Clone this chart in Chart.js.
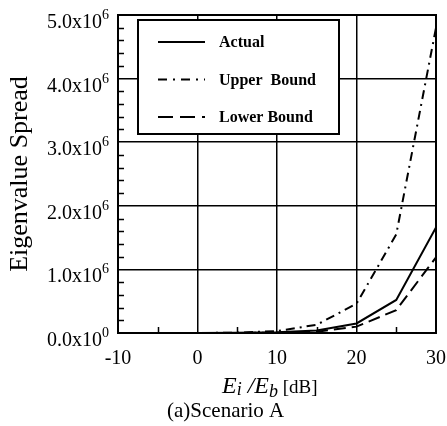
<!DOCTYPE html>
<html>
<head>
<meta charset="utf-8">
<script src="https://cdn.jsdelivr.net/npm/chart.js@4/dist/chart.umd.min.js"></script>
<style>
  html, body { margin: 0; padding: 0; background: #fff; }
  #wrap { width: 447px; height: 426px; position: relative; }
</style>
</head>
<body>
<div id="wrap"><canvas id="spread"></canvas></div>
<script>
// Ei/Eb in dB
const snr = [-10, -5, 0, 5, 10, 15, 20, 25, 30];
// eigenvalue spread, scenario A
const actual = [0, 0, 0, 2000, 10000, 40000, 150000, 520000, 1660000];
const upperBound = [0, 0, 0, 5000, 30000, 130000, 460000, 1550000, 4800000];
const lowerBound = [0, 0, 0, 1000, 5000, 20000, 100000, 360000, 1190000];
const seriesNames = ['Actual', 'Upper  Bound', 'Lower Bound'];

const SERIF = "'Liberation Serif', 'Times New Roman', serif";
const toPoints = (ys) => ys.map((y, i) => ({ x: snr[i], y }));

// frame, minor ticks, tick labels, axis titles and the boxed legend
const paperPlot = {
  id: 'paperPlot',
  afterDatasetsDraw(chart) {
    const { ctx, chartArea: a, scales } = chart;
    const xs = scales.x, ys = scales.y;
    ctx.save();

    // frame
    ctx.strokeStyle = '#000';
    ctx.lineWidth = 2;
    ctx.strokeRect(a.left, a.top, a.right - a.left, a.bottom - a.top);

    // minor ticks pointing inward
    ctx.lineWidth = 1.5;
    ctx.beginPath();
    for (let v = 200000; v < 5000000; v += 200000) {
      if (v % 1000000 === 0) continue;
      const py = Math.round(ys.getPixelForValue(v)) + 0.5;
      ctx.moveTo(a.left, py);
      ctx.lineTo(a.left + 6, py);
    }
    for (let v = -5; v < 30; v += 10) {
      const px = Math.round(xs.getPixelForValue(v)) + 0.5;
      ctx.moveTo(px, a.bottom);
      ctx.lineTo(px, a.bottom - 6);
    }
    ctx.stroke();

    ctx.fillStyle = '#000';
    ctx.textBaseline = 'alphabetic';

    // y tick labels: m.0x10^e
    ys.ticks.forEach((t) => {
      const py = ys.getPixelForValue(t.value);
      const exp = t.value === 0 ? '0' : '6';
      const mant = (t.value / 1e6).toFixed(1) + 'x10';
      ctx.font = '14px ' + SERIF;
      const ew = ctx.measureText(exp).width;
      const right = a.left - 9;
      ctx.textAlign = 'left';
      ctx.fillText(exp, right - ew, py + 4);
      ctx.font = '20px ' + SERIF;
      ctx.textAlign = 'right';
      ctx.fillText(mant, right - ew, py + 13);
    });

    // x tick labels
    ctx.font = '20px ' + SERIF;
    ctx.textAlign = 'center';
    xs.ticks.forEach((t) => {
      ctx.fillText(String(t.value), xs.getPixelForValue(t.value), a.bottom + 31);
    });

    // x title: Ei /Eb [dB]
    const parts = [
      { s: 'E', f: 'italic 24px ' + SERIF, dy: 0 },
      { s: 'i', f: 'italic 18px ' + SERIF, dy: 2 },
      { s: ' /', f: 'italic 24px ' + SERIF, dy: 0 },
      { s: 'E', f: 'italic 24px ' + SERIF, dy: 0 },
      { s: 'b', f: 'italic 18px ' + SERIF, dy: 4 },
      { s: ' [dB]', f: '19px ' + SERIF, dy: 0 },
    ];
    parts.forEach((p) => { ctx.font = p.f; p.w = ctx.measureText(p.s).width; });
    let cx = 222;
    ctx.textAlign = 'left';
    parts.forEach((p) => {
      ctx.font = p.f;
      ctx.fillText(p.s, cx, a.bottom + 60 + p.dy);
      cx += p.w;
    });

    // caption
    ctx.font = '21px ' + SERIF;
    ctx.fillText('(a)Scenario A', 167, a.bottom + 84);

    // y title
    ctx.save();
    ctx.translate(27, (a.top + a.bottom) / 2);
    ctx.rotate(-Math.PI / 2);
    ctx.font = '26px ' + SERIF;
    ctx.textAlign = 'center';
    ctx.fillText('Eigenvalue Spread', 0, 0);
    ctx.restore();

    // legend box
    const bx = 138, by = 20, bw = 201, bh = 114;
    ctx.fillStyle = '#fff';
    ctx.fillRect(bx, by, bw, bh);
    ctx.lineWidth = 2;
    ctx.strokeStyle = '#000';
    ctx.strokeRect(bx, by, bw, bh);
    ctx.fillStyle = '#000';
    ctx.font = 'bold 16px ' + SERIF;
    ctx.textAlign = 'left';
    ctx.textBaseline = 'middle';
    chart.data.datasets.forEach((ds, i) => {
      const ly = by + 22 + i * 37.5;
      ctx.beginPath();
      ctx.setLineDash(ds.legendDash || []);
      ctx.lineWidth = 2;
      ctx.moveTo(158, ly);
      ctx.lineTo(205, ly);
      ctx.stroke();
      ctx.setLineDash([]);
      ctx.fillText(ds.label, 219, ly + 1);
    });

    ctx.restore();
  },
};

new Chart(document.getElementById('spread'), {
  type: 'scatter',
  data: {
    datasets: [
      { label: seriesNames[0], data: toPoints(actual), borderDash: [], legendDash: [] },
      { label: seriesNames[1], data: toPoints(upperBound), borderDash: [9, 5, 2, 5], legendDash: [9, 6, 2, 6] },
      { label: seriesNames[2], data: toPoints(lowerBound), borderDash: [12, 6], legendDash: [15, 7] },
    ].map((d) => ({
      ...d,
      showLine: true,
      borderColor: '#000',
      backgroundColor: '#000',
      borderWidth: 2,
      pointRadius: 0,
      tension: 0,
      fill: false,
    })),
  },
  options: {
    responsive: true,
    maintainAspectRatio: false,
    animation: false,
    layout: { padding: { left: 118, right: 11, top: 15, bottom: 93 } },
    plugins: { legend: { display: false }, tooltip: { enabled: false } },
    scales: {
      x: {
        type: 'linear',
        min: -10,
        max: 30,
        ticks: { display: false, stepSize: 10 },
        grid: { color: '#000', lineWidth: 1.5, drawTicks: false },
        border: { display: false },
      },
      y: {
        min: 0,
        max: 5000000,
        ticks: { display: false, stepSize: 1000000 },
        grid: { color: '#000', lineWidth: 1.5, drawTicks: false },
        border: { display: false },
      },
    },
  },
  plugins: [paperPlot],
});
</script>
</body>
</html>
